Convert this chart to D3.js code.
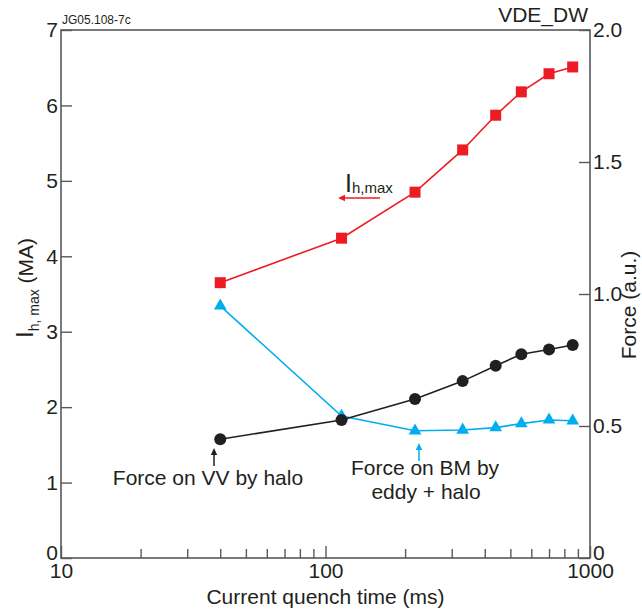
<!DOCTYPE html>
<html>
<head>
<meta charset="utf-8">
<script src="https://cdn.jsdelivr.net/npm/d3@7"></script>
<style>
  body { margin: 0; background: #fff; }
  text { font-family: "Liberation Sans", Arial, sans-serif; fill: #231f20; }
</style>
</head>
<body>
<div id="chart"></div>
<script>
// Current quench times (ms) shared by all three series
const quenchTimes = [40, 115, 218, 330, 440, 550, 700, 860];

// I_h,max (MA) - left axis
const haloCurrent = [3.65, 4.24, 4.85, 5.41, 5.87, 6.18, 6.42, 6.51];

// Force on VV by halo (a.u.) - right axis
const forceVV = [0.450, 0.523, 0.602, 0.670, 0.728, 0.772, 0.790, 0.807];

// Force on BM by eddy + halo (a.u.) - right axis
const forceBM = [0.955, 0.538, 0.482, 0.485, 0.494, 0.509, 0.523, 0.520];

// Tick values
const leftTicks = [0, 1, 2, 3, 4, 5, 6, 7];
const rightTicks = [0, 0.5, 1.0, 1.5, 2.0];
const xMajorTicks = [10, 100, 1000];

const width = 642;
const height = 615;
const margin = { top: 30, right: 52, bottom: 57, left: 61 };
const innerWidth = width - margin.left - margin.right;
const innerHeight = height - margin.top - margin.bottom;

const RED = "#ed1c24";
const CYAN = "#00aeef";
const BLACK = "#231f20";
const AXIS = "#58595b";

const svg = d3.select("#chart")
    .append("svg")
    .attr("width", width)
    .attr("height", height);

const g = svg.append("g")
    .attr("transform", `translate(${margin.left},${margin.top})`);

// --- scales ---
const x = d3.scaleLog().domain([10, 1000]).range([0, innerWidth]);
const yLeft = d3.scaleLinear().domain([0, 7]).range([innerHeight, 0]);
const yRight = d3.scaleLinear().domain([0, 2]).range([innerHeight, 0]);

// all log ticks (majors + minors)
const xAllTicks = x.ticks();

// --- axes (ticks point inward) ---
const leftAxis = g.append("g")
    .call(d3.axisLeft(yLeft).tickValues(leftTicks)
        .tickSizeInner(-11).tickSizeOuter(0).tickPadding(3)
        .tickFormat(d3.format("d")));

const rightAxis = g.append("g")
    .attr("transform", `translate(${innerWidth},0)`)
    .call(d3.axisRight(yRight).tickValues(rightTicks)
        .tickSizeInner(-11).tickSizeOuter(0).tickPadding(3)
        .tickFormat(d => d === 0 ? "0" : d3.format(".1f")(d)));

const bottomAxis = g.append("g")
    .attr("transform", `translate(0,${innerHeight})`)
    .call(d3.axisBottom(x).tickValues(xAllTicks)
        .tickSizeInner(-9).tickSizeOuter(0).tickPadding(5)
        .tickFormat(d => xMajorTicks.includes(d) ? d3.format("d")(d) : ""));

// major x ticks a bit longer, minor ticks get no label
bottomAxis.selectAll(".tick line")
    .filter(d => xMajorTicks.includes(d))
    .attr("y2", -12);
bottomAxis.selectAll(".tick text")
    .filter(d => !xMajorTicks.includes(d))
    .remove();

[leftAxis, rightAxis, bottomAxis].forEach(ax => {
    ax.select(".domain").remove();
    ax.selectAll(".tick line").attr("stroke", AXIS).attr("stroke-width", 1.4);
    ax.selectAll(".tick text")
        .style("font-size", "21px")
        .attr("fill", BLACK);
});

// lift the "0" labels off the x axis
leftAxis.selectAll(".tick text").filter(d => d === 0).attr("dy", "0.08em");
rightAxis.selectAll(".tick text").filter(d => d === 0).attr("dy", "0.08em");

// frame
g.append("rect")
    .attr("width", innerWidth)
    .attr("height", innerHeight)
    .attr("fill", "none")
    .attr("stroke", AXIS)
    .attr("stroke-width", 1.6);

// --- data series ---
const toPoints = vals => quenchTimes.map((t, i) => ({ t, v: vals[i] }));

const drawSeries = (vals, yScale, color) => {
    const pts = toPoints(vals);
    const line = d3.line().x(d => x(d.t)).y(d => yScale(d.v));
    g.append("path")
        .datum(pts)
        .attr("d", line)
        .attr("fill", "none")
        .attr("stroke", color)
        .attr("stroke-width", 1.6);
    return pts;
};

// cyan triangles (BM force)
const bmPts = drawSeries(forceBM, yRight, CYAN);
g.selectAll(".tri")
    .data(bmPts)
    .join("path")
    .attr("class", "tri")
    .attr("transform", d => `translate(${x(d.t)},${yRight(d.v)})`)
    .attr("d", d3.symbol(d3.symbolTriangle, 70))
    .attr("fill", CYAN);

// black circles (VV force)
const vvPts = drawSeries(forceVV, yRight, BLACK);
g.selectAll(".dot")
    .data(vvPts)
    .join("circle")
    .attr("class", "dot")
    .attr("cx", d => x(d.t))
    .attr("cy", d => yRight(d.v))
    .attr("r", 6)
    .attr("fill", BLACK);

// red squares (I_h,max)
const sq = 11;
const ihPts = drawSeries(haloCurrent, yLeft, RED);
g.selectAll(".sq")
    .data(ihPts)
    .join("rect")
    .attr("class", "sq")
    .attr("x", d => x(d.t) - sq / 2)
    .attr("y", d => yLeft(d.v) - sq / 2)
    .attr("width", sq)
    .attr("height", sq)
    .attr("fill", RED);

// --- annotations (page coordinates) ---
const ann = svg.append("g");

const arrow = (x1, y1, x2, y2, color) => {
    // line from (x1,y1) to tip (x2,y2) with a filled head
    const ang = Math.atan2(y2 - y1, x2 - x1);
    const len = 7, half = 3.2;
    const bx = x2 - len * Math.cos(ang), by = y2 - len * Math.sin(ang);
    ann.append("line")
        .attr("x1", x1).attr("y1", y1).attr("x2", bx).attr("y2", by)
        .attr("stroke", color).attr("stroke-width", 1.5);
    ann.append("path")
        .attr("d", `M${x2},${y2}L${bx - half * Math.sin(ang)},${by + half * Math.cos(ang)}L${bx + half * Math.sin(ang)},${by - half * Math.cos(ang)}Z`)
        .attr("fill", color);
};

arrow(214, 466, 214, 448, BLACK);
ann.append("text")
    .attr("x", 208).attr("y", 485)
    .attr("text-anchor", "middle")
    .style("font-size", "21px")
    .text("Force on VV by halo");

arrow(419, 461, 419, 443, CYAN);
ann.append("text")
    .attr("x", 425).attr("y", 475)
    .attr("text-anchor", "middle")
    .style("font-size", "21px")
    .text("Force on BM by");
ann.append("text")
    .attr("x", 426).attr("y", 499)
    .attr("text-anchor", "middle")
    .style("font-size", "21px")
    .text("eddy + halo");

arrow(380, 198, 338, 198, RED);
const ihLabel = ann.append("text")
    .attr("x", 345).attr("y", 192);
ihLabel.append("tspan").style("font-size", "25px").text("I");
ihLabel.append("tspan").attr("dy", 1).style("font-size", "15px").text("h,max");

// top texts
ann.append("text")
    .attr("x", 62).attr("y", 24)
    .style("font-size", "12px")
    .text("JG05.108-7c");

ann.append("text")
    .attr("x", 588).attr("y", 22)
    .attr("text-anchor", "end")
    .style("font-size", "21px")
    .text("VDE_DW");

// axis titles
ann.append("text")
    .attr("x", x(100) + margin.left).attr("y", 604)
    .attr("text-anchor", "middle")
    .style("font-size", "21px")
    .text("Current quench time (ms)");

const leftTitle = ann.append("text")
    .attr("transform", "translate(33,338) rotate(-90)")
    .attr("text-anchor", "start");
leftTitle.append("tspan").style("font-size", "24px").text("I");
leftTitle.append("tspan").attr("dy", 6).style("font-size", "14px").text("h, max");
leftTitle.append("tspan").attr("dy", -6).style("font-size", "21px").text(" (MA)");

ann.append("text")
    .attr("transform", "translate(636,305) rotate(-90)")
    .attr("text-anchor", "middle")
    .style("font-size", "21px")
    .text("Force (a.u.)");
</script>
</body>
</html>
